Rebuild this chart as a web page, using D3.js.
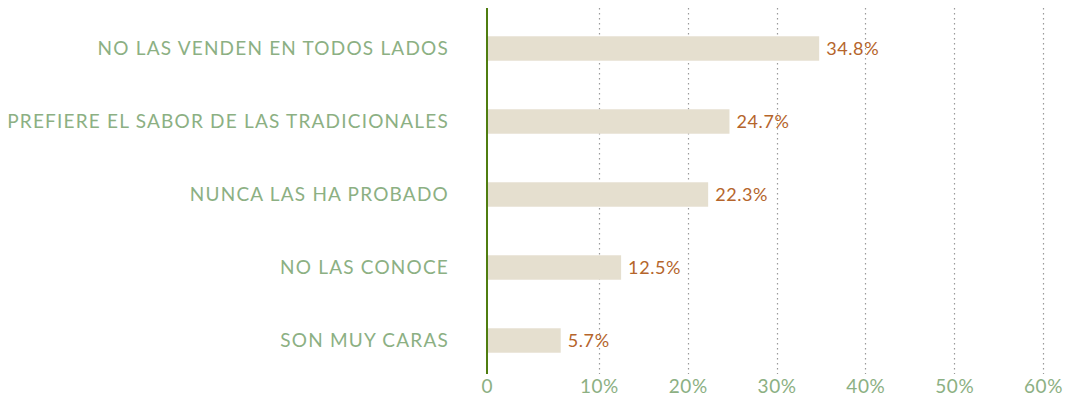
<!DOCTYPE html>
<html>
<head>
<meta charset="utf-8">
<script src="https://cdn.jsdelivr.net/npm/d3@7"></script>
<style>
  body { margin: 0; background: #fff; }
  svg text { font-family: Lato, "Open Sans", sans-serif; }
</style>
</head>
<body>
<div id="chart-area"></div>
<script>
// data
var categories = [
    "NO LAS VENDEN EN TODOS LADOS",
    "PREFIERE EL SABOR DE LAS TRADICIONALES",
    "NUNCA LAS HA PROBADO",
    "NO LAS CONOCE",
    "SON MUY CARAS"
];
var values = [34.8, 24.7, 22.3, 12.5, 5.7];
var tickValues = [10, 20, 30, 40, 50, 60];
var tickLabels = ["10%", "20%", "30%", "40%", "50%", "60%"];

var width = 1067;
var height = 401;

var labelColor = "#8cb083";
var valueColor = "#b5652b";
var barColor = "#e5dfcf";
var axisColor = "#4f7d10";

var svg = d3.select("#chart-area")
    .append("svg")
    .attr("width", width)
    .attr("height", height);

// baseline sits a little left of the 0 value
var x = d3.scaleLinear()
    .domain([-2.6, 60])
    .range([487, 1043]);

var y = d3.scaleBand()
    .domain(categories)
    .range([12, 377])
    .paddingInner(0.665)
    .paddingOuter(0.3325);

var gridTop = 8, gridBottom = 374;

// dotted grid lines
svg.selectAll("line.grid")
    .data(tickValues)
    .enter()
    .append("line")
    .attr("class", "grid")
    .attr("x1", function(d) { return Math.round(x(d)) + 0.5; })
    .attr("x2", function(d) { return Math.round(x(d)) + 0.5; })
    .attr("y1", gridTop)
    .attr("y2", gridBottom)
    .attr("stroke", "#9a9a9a")
    .attr("stroke-width", 1.2)
    .attr("stroke-dasharray", "1.5,3.5");

var data = categories.map(function(c, i) {
    return { cat: c, value: values[i] };
});

svg.selectAll("rect.bar")
    .data(data)
    .enter()
    .append("rect")
    .attr("class", "bar")
    .attr("x", x.range()[0])
    .attr("y", function(d) { return y(d.cat); })
    .attr("width", function(d) { return x(d.value) - x.range()[0]; })
    .attr("height", y.bandwidth())
    .attr("fill", barColor);

// value labels
svg.selectAll("text.value")
    .data(data)
    .enter()
    .append("text")
    .attr("class", "value")
    .attr("x", function(d) { return x(d.value) + 7; })
    .attr("y", function(d) { return y(d.cat) + y.bandwidth() / 2; })
    .attr("dy", "0.35em")
    .attr("fill", valueColor)
    .style("font-size", "18px")
    .style("letter-spacing", "0.6px")
    .text(function(d) { return d.value.toFixed(1) + "%"; });

// category labels
svg.selectAll("text.cat")
    .data(categories)
    .enter()
    .append("text")
    .attr("class", "cat")
    .attr("x", 449)
    .attr("y", function(d) { return y(d) + y.bandwidth() / 2; })
    .attr("dy", "0.35em")
    .attr("text-anchor", "end")
    .attr("fill", labelColor)
    .style("font-size", "19px")
    .style("letter-spacing", "1.2px")
    .text(function(d) { return d; });

// x axis labels
var xAxis = d3.axisBottom(x)
    .tickValues(tickValues)
    .tickFormat(function(d, i) { return tickLabels[i]; })
    .tickSize(0)
    .tickPadding(6);

var gx = svg.append("g")
    .attr("transform", "translate(0," + gridBottom + ")")
    .call(xAxis);
gx.select(".domain").remove();
gx.selectAll("text")
    .attr("fill", labelColor)
    .style("font-size", "19px")
    .style("letter-spacing", "0.6px")
    .style("font-family", "Lato, sans-serif");

svg.append("text")
    .attr("x", x.range()[0])
    .attr("y", gridBottom + 6)
    .attr("dy", "0.71em")
    .attr("text-anchor", "middle")
    .attr("fill", labelColor)
    .style("font-size", "19px")
    .text("0");

// vertical baseline
svg.append("line")
    .attr("x1", x.range()[0])
    .attr("x2", x.range()[0])
    .attr("y1", gridTop)
    .attr("y2", gridBottom)
    .attr("stroke", axisColor)
    .attr("stroke-width", 2);
</script>
</body>
</html>
